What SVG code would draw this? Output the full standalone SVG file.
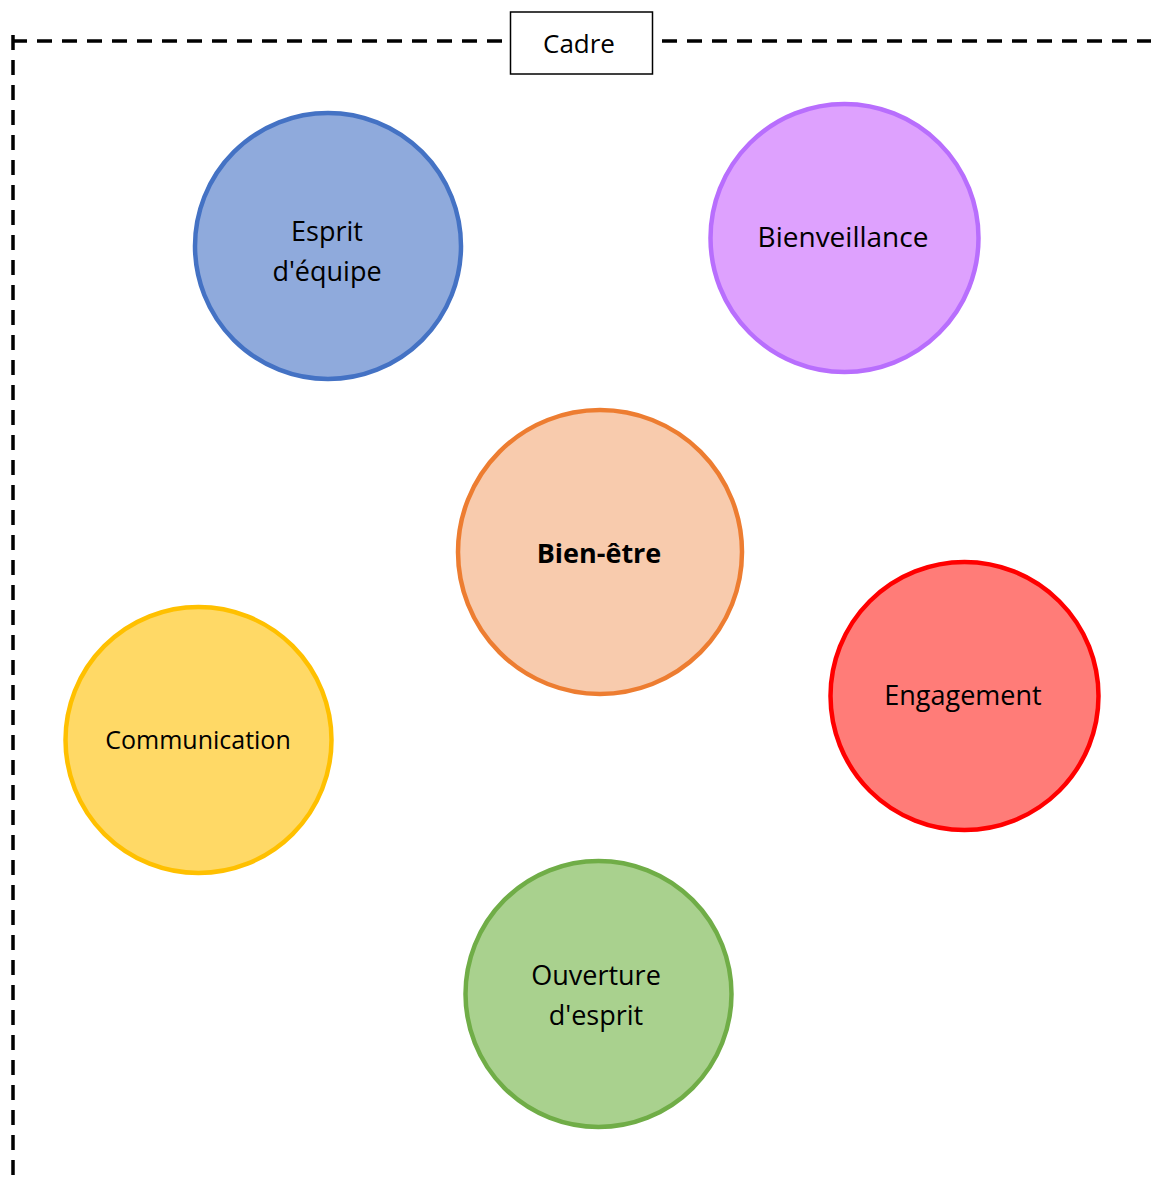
<svg xmlns="http://www.w3.org/2000/svg" width="1151" height="1187" viewBox="0 0 1151 1187">
<style>
.frame{fill:none;stroke:#000;stroke-width:3.5;stroke-dasharray:15 10}
.c{stroke-width:4.5}
.t{font-family:"Open Sans","Liberation Sans",sans-serif;font-size:27px;fill:#000;text-anchor:middle}
.b{font-weight:bold}
</style>
<rect width="1151" height="1187" fill="#fff"/>
<g id="cadre">
<path class="frame" d="M12,41 H1151"/>
<path class="frame" d="M13,35 V1180"/>
<rect x="510.5" y="12" width="142" height="62" fill="#fff" stroke="#000" stroke-width="1.5"/>
<text class="t" x="579" y="53" style="font-size:26px">Cadre</text>
</g>
<g id="connectors"></g>
<g id="esprit-equipe">
<circle class="c" cx="328" cy="246" r="133" fill="#8FAADC" stroke="#4472C4"/>
<text class="t" x="327" y="241">Esprit</text>
<text class="t" x="327" y="281">d'équipe</text>
</g>
<g id="bienveillance">
<circle class="c" cx="844.5" cy="238" r="134" fill="#DEA1FE" stroke="#B86EFD"/>
<text class="t" x="843" y="247" style="font-size:28px">Bienveillance</text>
</g>
<g id="bien-etre">
<circle class="c" cx="600" cy="552" r="142" fill="#F8CBAD" stroke="#ED7D31"/>
<text class="t b" x="599" y="563">Bien-être</text>
</g>
<g id="communication">
<circle class="c" cx="198.5" cy="740" r="133" fill="#FFD966" stroke="#FFC000"/>
<text class="t" x="198" y="749" style="font-size:25px">Communication</text>
</g>
<g id="engagement">
<circle class="c" cx="964.5" cy="696" r="134" fill="#FF7C78" stroke="#FF0000"/>
<text class="t" x="963" y="705">Engagement</text>
</g>
<g id="ouverture-esprit">
<circle class="c" cx="598.5" cy="994" r="133" fill="#A9D18E" stroke="#70AD47"/>
<text class="t" x="596" y="985">Ouverture</text>
<text class="t" x="596" y="1025">d'esprit</text>
</g>
</svg>
